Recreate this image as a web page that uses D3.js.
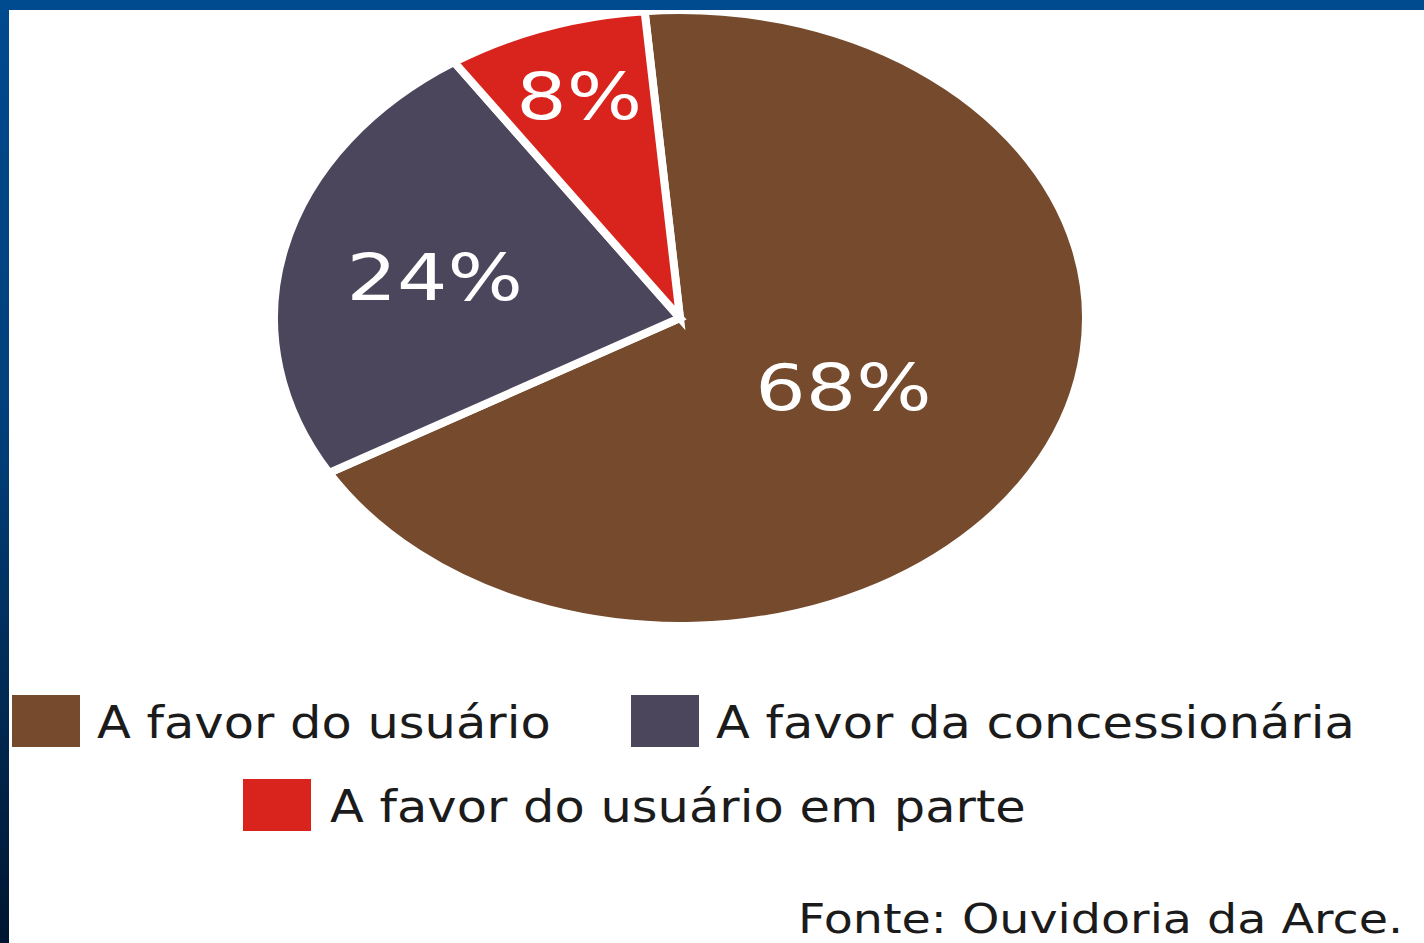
<!DOCTYPE html>
<html>
<head>
<meta charset="utf-8">
<script src="https://cdn.jsdelivr.net/npm/d3@7"></script>
<style>
  html, body { margin: 0; padding: 0; background: #fff; }
  svg { display: block; }
  text { font-family: "DejaVu Sans", Verdana, sans-serif; }
</style>
</head>
<body>
<svg id="chart" width="1424" height="943"></svg>
<script>
// Resultado das reclamações
const categories = ["A favor do usuário", "A favor da concessionária", "A favor do usuário em parte"];
const values = [68, 24, 8];
const labels = ["68%", "24%", "8%"];
const colors = ["#754a2d", "#4b465c", "#d8241c"];
const source = "Fonte: Ouvidoria da Arce.";

const W = 1424, H = 943;
const svg = d3.select("#chart");

// frame: blue strip along the top and a darkening strip down the left side
const defs = svg.append("defs");
const grad = defs.append("linearGradient").attr("id", "sideGrad")
  .attr("x1", 0).attr("y1", 0).attr("x2", 0).attr("y2", 1);
grad.append("stop").attr("offset", "0%").attr("stop-color", "#004a8f");
grad.append("stop").attr("offset", "45%").attr("stop-color", "#003f7a");
grad.append("stop").attr("offset", "100%").attr("stop-color", "#001631");

svg.append("rect").attr("x", 0).attr("y", 0).attr("width", W).attr("height", H).attr("fill", "#fff");

// pie, drawn as a circle and widened into an ellipse
const cx = 680, cy = 318, ry = 308, rx = 406;
const start = -5 * Math.PI / 180;
const pie = d3.pie().sort(null).value(d => d)
  .startAngle(start)
  .endAngle(start + 2 * Math.PI);
const arcs = pie(values);
const arc = d3.arc().innerRadius(0).outerRadius(ry);

const pieG = svg.append("g")
  .attr("transform", `translate(${cx},${cy}) scale(${rx / ry},1)`);
pieG.selectAll("path.slice")
  .data(arcs)
  .join("path")
  .attr("class", "slice")
  .attr("d", arc)
  .attr("fill", (d, i) => colors[i])
  .attr("stroke", "#fff")
  .attr("stroke-width", 8)
  .attr("stroke-linejoin", "miter")
  .attr("vector-effect", "non-scaling-stroke");

// percentage labels placed along each slice's mid-angle
const labelRadius = [0.47, 0.62, 0.77];
const labelShiftX = [-6, 0, 3];
const labelScaleX = 1.24;
svg.selectAll("text.pct")
  .data(arcs)
  .join("text")
  .attr("class", "pct")
  .attr("transform", (d, i) => {
    const a = (d.startAngle + d.endAngle) / 2;
    const r = labelRadius[i];
    const x = cx + Math.sin(a) * r * rx + labelShiftX[i];
    const y = cy - Math.cos(a) * r * ry;
    return `translate(${x},${y + 25}) scale(${labelScaleX},1)`;
  })
  .attr("text-anchor", "middle")
  .attr("font-size", 64)
  .attr("fill", "#fff")
  .text((d, i) => labels[i]);

// legend
const textScaleX = 1.125;
const legendItems = [
  { sx: 12, sy: 695, tx: 97, ty: 738 },
  { sx: 631, sy: 695, tx: 716, ty: 738 },
  { sx: 243, sy: 779, tx: 330, ty: 822 }
];
const lg = svg.append("g").attr("class", "legend");
legendItems.forEach((p, i) => {
  lg.append("rect")
    .attr("x", p.sx).attr("y", p.sy)
    .attr("width", 68).attr("height", 52)
    .attr("fill", colors[i]);
  lg.append("text")
    .attr("transform", `translate(${p.tx},${p.ty}) scale(${textScaleX},1)`)
    .attr("font-size", 44)
    .attr("fill", "#1b1b1b")
    .text(categories[i]);
});

// source note
svg.append("text")
  .attr("transform", `translate(798,933) scale(1.16,1)`)
  .attr("font-size", 41)
  .attr("fill", "#1b1b1b")
  .text(source);

// frame strips on top of everything
svg.append("rect").attr("x", 0).attr("y", 0).attr("width", 9).attr("height", H).attr("fill", "url(#sideGrad)");
svg.append("rect").attr("x", 0).attr("y", 0).attr("width", W).attr("height", 10).attr("fill", "#004a8f");
</script>
</body>
</html>
